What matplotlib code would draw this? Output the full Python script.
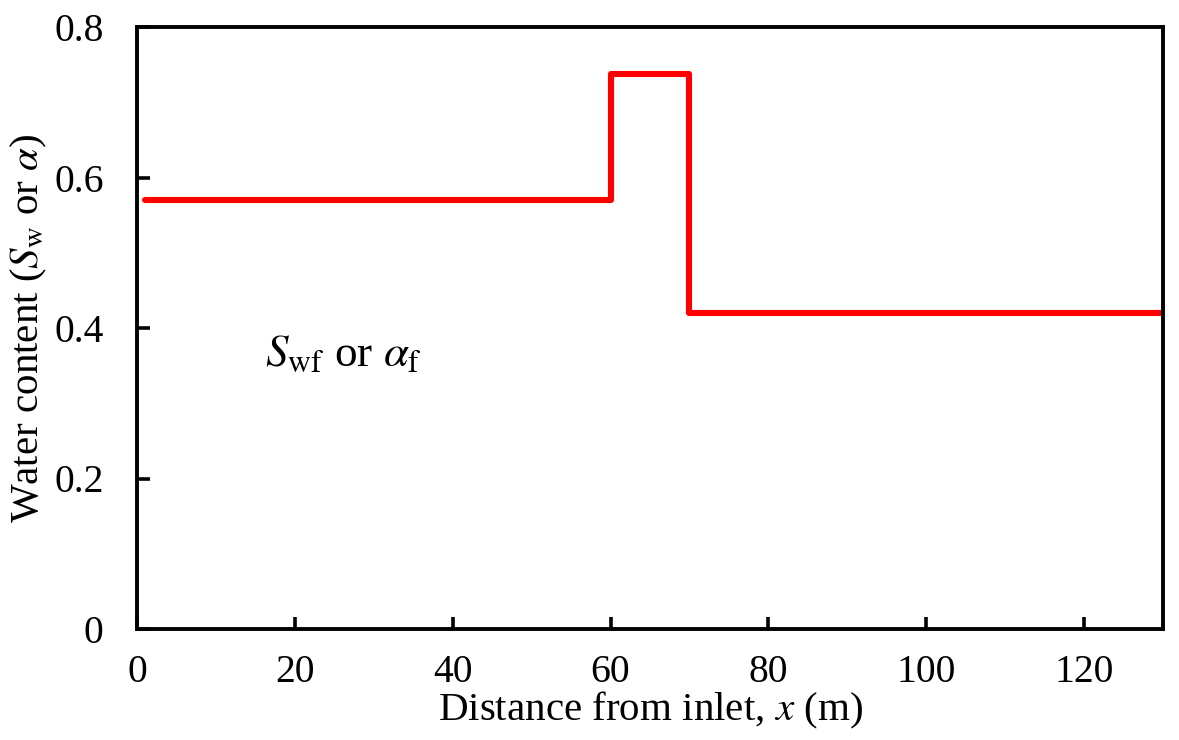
import matplotlib
matplotlib.use("Agg")
import matplotlib.pyplot as plt

# step profile of water content along the pipe
x_pts = [1, 60, 60, 70, 70, 130]
sw_pts = [0.57, 0.57, 0.737, 0.737, 0.42, 0.42]

x_ticks = [0, 20, 40, 60, 80, 100, 120]
y_ticks = [0, 0.2, 0.4, 0.6, 0.8]
y_tick_labels = ["0", "0.2", "0.4", "0.6", "0.8"]

plt.rcParams['font.family'] = ['Liberation Serif', 'DejaVu Serif']
plt.rcParams['mathtext.fontset'] = 'stix'

fig = plt.figure(figsize=(11.79, 7.40), dpi=100)
ax = fig.add_axes([137/1179, 1 - 629/740, (1163-137)/1179, (629-27)/740])

ax.plot(x_pts, sw_pts, color='#ff0000', lw=4.4, solid_joinstyle='round', solid_capstyle='round')

ax.set_xlim(0, 130)
ax.set_ylim(0, 0.8)
ax.set_xticks(x_ticks)
ax.set_yticks(y_ticks)
ax.set_yticklabels(y_tick_labels)
ax.tick_params(direction='in', length=9, width=2.6, labelsize=28.5)
ax.tick_params(axis='x', pad=18)
ax.tick_params(axis='y', pad=24)
for s in ax.spines.values():
    s.set_linewidth(2.8)

ax.set_xlabel(r"Distance from inlet, $x$ (m)", fontsize=29.5, labelpad=-1)
ax.set_ylabel(r"Water content ($S_{\mathrm{w}}$ or $\alpha$)", fontsize=29.5, labelpad=4)

ax.text(16.2, 0.364, r"$S_{\mathrm{wf}}$ or $\alpha_{\mathrm{f}}$", fontsize=32.5, va='center', ha='left')

plt.savefig('out.png', dpi=100)
plt.close()
